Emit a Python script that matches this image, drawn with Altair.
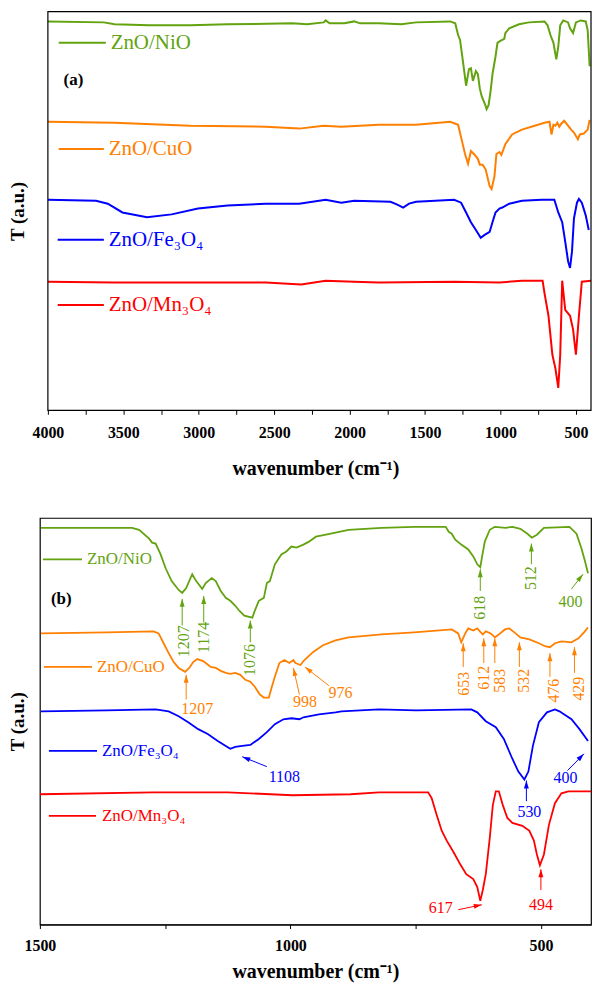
import altair as alt
import pandas as pd

FONT = "Liberation Serif"
SERIES = ["ZnO/NiO", "ZnO/CuO", "ZnO/Fe3O4", "ZnO/Mn3O4"]
LEGEND_TEXT = ["ZnO/NiO", "ZnO/CuO", "ZnO/Fe\u2083O\u2084", "ZnO/Mn\u2083O\u2084"]
COLORS = ["#62A30F", "#FF7F00", "#0000FF", "#FF0000"]

# ---------------- panel (a): 4000-400 cm-1 ----------------
a_range = [400, 4000]
a_nio_wn = [4000, 3629, 3558, 3330, 3057, 2809, 2380, 2282, 2172, 2159, 2133, 2035, 1970, 1931, 1807,
            1658, 1560, 1333, 1300, 1281, 1268, 1248, 1228, 1209, 1196, 1183, 1163, 1150, 1137, 1124,
            1105, 1092, 1079, 1066, 1053, 1033, 1020, 1001, 975, 968, 942, 877, 812, 708, 688,
            669, 649, 630, 617, 604, 584, 552, 539, 519, 500, 467, 435, 422, 409]
a_nio_t = [399, 398, 396, 395, 395, 396, 397, 396, 398, 400, 397, 397, 399, 397, 397,
           396, 398, 399, 397, 385, 380, 357, 333, 350, 351, 338, 348, 345, 330, 322,
           315, 309, 313, 327, 345, 363, 377, 379, 381, 387, 392, 396, 398, 399, 395,
           385, 377, 360, 373, 395, 400, 398, 392, 387, 398, 400, 399, 390, 353]

a_cuo_wn = [4000, 3558, 3057, 2556, 2334, 2172, 2055, 1807, 1560, 1333, 1281, 1261, 1235, 1215, 1196,
            1170, 1150, 1137, 1118, 1098, 1072, 1059, 1040, 1027, 1007, 994, 968, 923, 858, 773,
            708, 675, 662, 649, 636, 623, 610, 597, 578, 552, 532, 513, 487, 474, 448, 422, 409]
a_cuo_t = [296, 295, 292, 291, 289, 292, 291, 293, 293, 296, 293, 280, 263, 253, 266,
           262, 258, 252, 252, 247, 230, 227, 240, 263, 265, 262, 273, 283, 288, 292,
           295, 296, 283, 293, 292, 295, 291, 294, 297, 292, 288, 285, 278, 283, 284, 288, 298]

a_fe_wn = [4000, 3681, 3603, 3506, 3343, 3180, 3005, 2809, 2556, 2334, 2159, 2055, 1970, 1729, 1684,
           1645, 1606, 1560, 1307, 1261, 1228, 1196, 1163, 1131, 1105, 1072, 1053, 1033, 1007, 988,
           942, 858, 727, 643, 617, 591, 571, 552, 539, 526, 513, 493, 480, 461, 435, 415]
a_fe_t = [216, 215, 212, 203, 198, 201, 207, 210, 212, 212, 216, 213, 215, 214, 211,
          208, 212, 214, 216, 213, 203, 193, 185, 177, 180, 183, 193, 203, 207, 208,
          212, 215, 216, 216, 203, 193, 173, 153, 146, 163, 197, 213, 217, 213, 200, 185]

a_mn_wn = [4000, 3558, 3057, 2933, 2556, 2321, 2159, 1970, 1807, 1307, 1007, 858, 721, 708, 682,
           656, 636, 617, 604, 591, 571, 539, 519, 500, 480, 461, 400]
a_mn_t = [132, 131, 131, 131, 131, 129, 133, 132, 131, 132, 131, 133, 133, 120, 97,
          57, 43, 23, 57, 133, 103, 97, 83, 57, 97, 132, 133]

a_leg_x1 = [3928, 3928, 3935, 3935]
a_leg_x2 = [3616, 3629, 3629, 3629]
a_leg_text_x = [3584, 3597, 3597, 3597]
a_leg_t = [377, 268, 175, 108]
a_tag = ["(a)", 3896, 339]

# ---------------- panel (b): 1500-400 cm-1 ----------------
b_range = [400, 1500]
b_nio_wn = [1498, 1316, 1302, 1282, 1276, 1269, 1259, 1249, 1237, 1223, 1216, 1208, 1196, 1188, 1176,
            1169, 1157, 1149, 1139, 1129, 1120, 1110, 1102, 1092, 1076, 1071, 1063, 1053, 1047, 1041,
            1031, 1018, 1008, 998, 988, 974, 963, 949, 929, 910, 884, 818, 753, 690, 684,
            678, 671, 659, 645, 635, 627, 621, 618, 612, 602, 592, 570, 557, 541, 527,
            518, 508, 494, 443, 429, 419, 412, 406]
b_nio_t = [402, 402, 400, 391, 387, 386, 375, 361, 348, 339, 336, 341, 355, 348, 340,
           346, 351, 348, 338, 331, 328, 323, 318, 313, 311, 318, 328, 331, 346, 348,
           365, 375, 378, 383, 382, 385, 388, 393, 395, 397, 400, 402, 403, 403, 398,
           396, 390, 385, 380, 373, 365, 362, 371, 388, 400, 403, 402, 403, 401, 396,
           392, 395, 402, 403, 396, 381, 368, 356]

b_cuo_wn = [1498, 1367, 1273, 1263, 1253, 1243, 1233, 1223, 1210, 1202, 1194, 1186, 1174, 1169, 1159,
            1149, 1139, 1129, 1120, 1110, 1100, 1090, 1080, 1071, 1061, 1053, 1043, 1037, 1031, 1022,
            1012, 1002, 994, 990, 980, 972, 955, 935, 910, 884, 818, 753, 678, 665, 659,
            651, 645, 635, 627, 620, 616, 610, 600, 592, 586, 572, 563, 553, 541, 523,
            504, 492, 482, 472, 459, 439, 425, 414, 406]
b_cuo_t = [295, 296, 297, 295, 285, 275, 266, 260, 256, 260, 266, 269, 267, 265, 261,
           260, 257, 255, 254, 255, 253, 248, 246, 241, 233, 230, 230, 241, 251, 265,
           268, 265, 268, 265, 263, 268, 276, 283, 288, 291, 294, 296, 299, 295, 286,
           295, 300, 298, 300, 296, 294, 297, 295, 291, 293, 299, 300, 296, 291, 289,
           285, 282, 281, 285, 287, 286, 290, 296, 301]

b_fe_wn = [1498, 1367, 1269, 1243, 1223, 1204, 1184, 1165, 1145, 1129, 1120, 1110, 1096, 1080, 1063,
           1047, 1031, 1014, 998, 982, 974, 943, 910, 898, 823, 749, 639, 627, 610, 590,
           574, 557, 545, 533, 525, 516, 504, 488, 472, 463, 439, 423, 406]
b_fe_t = [216, 217, 218, 216, 211, 205, 198, 193, 186, 181, 178, 180, 181, 182, 188,
          195, 203, 208, 209, 208, 210, 213, 215, 216, 218, 217, 218, 215, 206, 200,
          188, 168, 155, 147, 155, 181, 205, 215, 218, 216, 208, 198, 186]

b_mn_wn = [1500, 1274, 1125, 996, 880, 823, 725, 718, 708, 698, 688, 674, 661, 649, 635,
           627, 621, 616, 610, 602, 596, 590, 584, 576, 567, 557, 537, 523, 514, 508,
           502, 494, 484, 472, 459, 445, 406, 400]
b_mn_t = [132, 134, 134, 131, 132, 134, 134, 128, 111, 95, 85, 73, 61, 51, 46,
          38, 24, 35, 51, 88, 121, 135, 135, 121, 108, 103, 100, 95, 85, 71,
          60, 71, 101, 123, 133, 135, 135, 135]

b_leg_x1 = [1494, 1492, 1482, 1482]
b_leg_x2 = [1416, 1396, 1386, 1388]
b_leg_text_x = [1406, 1386, 1376, 1376]
b_leg_t = [370, 261, 176, 110]
b_tag = ["(b)", 1478, 330]

# peak annotations of panel (b)
arr_series = [0, 0, 0, 0, 0, 0, 1, 1, 1, 1, 1, 1, 1, 1, 1, 2, 2, 2, 3, 3]
arr_tail_wn = [1216, 1173, 1080, 621, 519, 439, 1208, 982, 923, 655, 614, 592, 543, 482, 433, 1047, 529, 447, 665, 500]
arr_tail_t = [303, 306, 286, 338, 365, 340, 228, 233, 242, 261, 265, 265, 261, 251, 255, 160, 125, 156, 15, 35]
arr_tip_wn = [1216, 1173, 1080, 621, 519, 416, 1208, 994, 971, 655, 614, 592, 543, 482, 433, 1096, 529, 414, 618, 500]
arr_tip_t = [330, 333, 308, 360, 386, 355, 253, 260, 261, 285, 290, 290, 286, 275, 281, 170, 146, 173, 20, 56]
arr_angle = [0, 0, 0, 0, 0, 39, 0, 347, 308, 0, 0, 0, 0, 0, 0, 292, 0, 45, 78, 0]

vlab_text = ["1207", "1174", "1076", "618", "512", "653", "612", "583", "532", "476", "429"]
vlab_series = [0, 0, 0, 0, 0, 1, 1, 1, 1, 1, 1]
vlab_wn = [1213, 1173, 1081, 621, 519, 653, 614, 582, 533, 474, 423]
vlab_t = [287, 291, 268, 321, 351, 244, 250, 247, 247, 237, 239]

hlab_text = ["400", "1207", "998", "976", "1108", "530", "400", "617", "494"]
hlab_series = [0, 1, 1, 1, 2, 2, 2, 3, 3]
hlab_wn = [441, 1186, 971, 900, 1012, 523, 451, 700, 500]
hlab_t = [327, 218, 225, 235, 149, 114, 148, 17, 20]

ARROW_HEAD = "M0,0L0.7,2.3L-0.7,2.3Z"
color_scale = alt.Scale(domain=SERIES, range=COLORS)


def line_frame(wns, ts):
    rows = []
    for s, wl, tl in zip(SERIES, wns, ts):
        for i, (w, t) in enumerate(zip(wl, tl)):
            rows.append({"series": s, "wn": w, "T": t, "i": i})
    return pd.DataFrame(rows)


def panel(lines, leg_x1, leg_x2, leg_tx, leg_t, tag, data_range, xdom, xvals, tdom, w, h,
          leg_size, lw, lab_pad, x_title_pad, own_frame=False, annotate=False):
    xs = alt.Scale(domain=xdom, reverse=True, nice=False, zero=False)
    ys = alt.Scale(domain=tdom, nice=False, zero=False)
    xaxis = alt.Axis(values=xvals, labelExpr="datum.value % 500 == 0 ? datum.label : ''",
                     format="d", grid=False, tickSize=4, tickColor="black", tickWidth=1,
                     domain=not own_frame, domainColor="black", labelColor="black",
                     labelFont=FONT, labelFontSize=16,
                     labelFontWeight="bold", labelPadding=lab_pad, labelFlush=False,
                     labelOverlap=False, title="wavenumber (cm\u207b\u00b9)", titleFont=FONT,
                     titleFontSize=20, titleFontWeight="bold", titleColor="black",
                     titlePadding=x_title_pad)
    yaxis = alt.Axis(labels=False, ticks=False, domain=False, grid=False, title="T (a.u.)",
                     titleFont=FONT, titleFontSize=19, titleFontWeight="bold",
                     titleColor="black", titlePadding=12)

    def X(f="wn"):
        return alt.X(f + ":Q", scale=xs, axis=xaxis)

    def Y(f="T"):
        return alt.Y(f + ":Q", scale=ys, axis=yaxis)

    col = alt.Color("series:N", scale=color_scale, legend=None)

    layers = [
        alt.Chart(lines).mark_line(strokeWidth=lw, clip=True).encode(
            x=X(), y=Y(), color=col, order="i:Q")
    ]
    if own_frame:
        fr = pd.DataFrame({"wn": [data_range[1]], "wn2": [data_range[0]],
                           "T": [tdom[0]], "T2": [tdom[1]]})
        layers.append(alt.Chart(fr).mark_rect(fillOpacity=0, stroke="black",
                                              strokeWidth=1.2).encode(
            x=X(), x2="wn2:Q", y=Y(), y2="T2:Q"))
    leg = pd.DataFrame({"series": SERIES, "wn": leg_x1, "wn2": leg_x2, "tx": leg_tx,
                        "T": leg_t, "label": LEGEND_TEXT})
    layers.append(alt.Chart(leg).mark_rule(strokeWidth=lw).encode(
        x=X(), x2="wn2:Q", y=Y(), color=col))
    layers.append(alt.Chart(leg).mark_text(align="left", baseline="middle", font=FONT,
                                           fontSize=leg_size).encode(
        x=X("tx"), y=Y(), text="label:N", color=col))
    tagdf = pd.DataFrame({"label": [tag[0]], "wn": [tag[1]], "T": [tag[2]]})
    layers.append(alt.Chart(tagdf).mark_text(align="left", baseline="middle", font=FONT,
                                             fontSize=17, fontWeight="bold", color="black").encode(
        x=X(), y=Y(), text="label:N"))

    if annotate:
        arr = pd.DataFrame({"series": [SERIES[k] for k in arr_series], "wn": arr_tail_wn,
                            "T": arr_tail_t, "wn2": arr_tip_wn, "T2": arr_tip_t,
                            "ang": arr_angle})
        layers.append(alt.Chart(arr).mark_rule(strokeWidth=1).encode(
            x=X(), y=Y(), x2="wn2:Q", y2="T2:Q", color=col))
        layers.append(alt.Chart(arr).mark_point(shape=ARROW_HEAD, filled=True, size=49,
                                                opacity=1, strokeWidth=0).encode(
            x=X("wn2"), y=Y("T2"), angle=alt.Angle("ang:Q", scale=None), color=col))
        vl = pd.DataFrame({"series": [SERIES[k] for k in vlab_series], "wn": vlab_wn,
                           "T": vlab_t, "label": vlab_text})
        layers.append(alt.Chart(vl).mark_text(angle=270, align="center", baseline="middle",
                                              font=FONT, fontSize=16).encode(
            x=X(), y=Y(), text="label:N", color=col))
        hl = pd.DataFrame({"series": [SERIES[k] for k in hlab_series], "wn": hlab_wn,
                           "T": hlab_t, "label": hlab_text})
        layers.append(alt.Chart(hl).mark_text(align="center", baseline="middle",
                                              font=FONT, fontSize=16).encode(
            x=X(), y=Y(), text="label:N", color=col))

    out = alt.layer(*layers).properties(width=w, height=h)
    if own_frame:
        out = out.properties(view=alt.ViewBackground(stroke="transparent"))
    return out


# panel (a): frame 4000..400 sits 8 px right of the shared left edge
top = panel(line_frame([a_nio_wn, a_cuo_wn, a_fe_wn, a_mn_wn], [a_nio_t, a_cuo_t, a_fe_t, a_mn_t]),
            a_leg_x1, a_leg_x2, a_leg_text_x, a_leg_t, a_tag, a_range,
            [400, 4053], list(range(500, 4001, 250)), [0, 409], 553, 400,
            leg_size=21, lw=2, lab_pad=10, x_title_pad=18, own_frame=True)

bottom = panel(line_frame([b_nio_wn, b_cuo_wn, b_fe_wn, b_mn_wn], [b_nio_t, b_cuo_t, b_fe_t, b_mn_t]),
               b_leg_x1, b_leg_x2, b_leg_text_x, b_leg_t, b_tag, b_range,
               b_range, [500, 750, 1000, 1250, 1500], [0, 412], 553, 408,
               leg_size=17, lw=1.8, lab_pad=9, x_title_pad=8, annotate=True)

chart = alt.vconcat(top, bottom, spacing=38).properties(
    padding={"left": 0, "top": 0, "right": 0, "bottom": 0},
    background="white",
).configure_view(stroke="black", strokeWidth=1.2)

chart.save("out.html", embed_options={"renderer": "svg", "actions": False})
